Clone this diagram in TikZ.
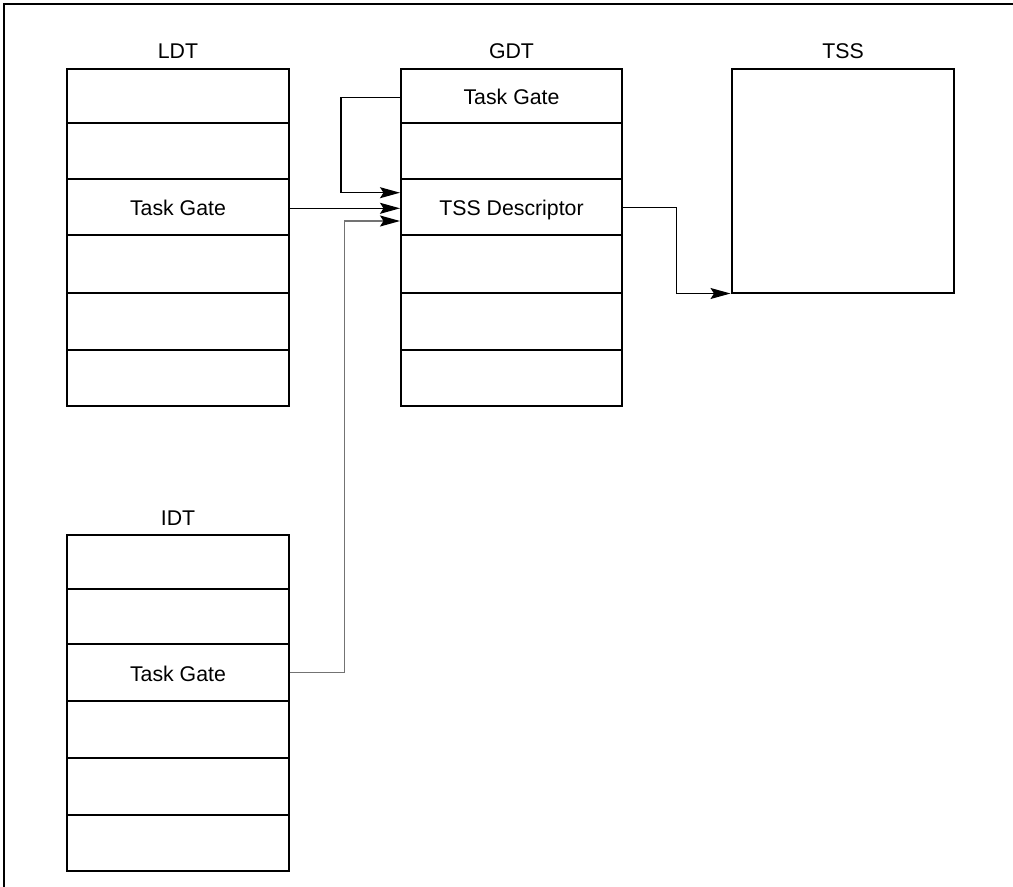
\documentclass[tikz,border=0pt]{standalone}
\usepackage{fontspec}
\setmainfont{Liberation Sans}
\usetikzlibrary{arrows.meta}
\begin{document}
\begin{tikzpicture}[x=1pt,y=-1pt,
  every node/.style={font=\fontsize{21.3}{25}\selectfont},
  row/.style={draw,line width=2pt,rectangle,inner sep=0pt,minimum width=222pt,text height=17pt,text depth=0pt},
  title/.style={inner sep=0pt},
  conn/.style={line width=1.1pt,-{Stealth[length=20pt,width=11pt,inset=3.5pt,color=black]}},
  gconn/.style={conn,line width=1.4pt,draw=gray!90!black},
  frame/.style={line width=2pt}]
\useasboundingbox (0,0) rectangle (1013,887);
\draw[frame] (4,887) -- (4,4) -- (1013,4);
% LDT
\node[title] (ldtlab) at (178,51) {LDT};
\node[row,minimum height=54pt] (ldt1) at (178,96) {};
\node[row,minimum height=56pt] (ldt2) at (178,151) {};
\node[row,minimum height=56pt] (ldt3) at (178,207) {Task Gate};
\node[row,minimum height=58pt] (ldt4) at (178,264) {};
\node[row,minimum height=57pt] (ldt5) at (178,321.5) {};
\node[row,minimum height=56pt] (ldt6) at (178,378) {};
% GDT
\node[title] (gdtlab) at (511.5,51) {GDT};
\node[row,minimum width=221pt,minimum height=54pt] (gdt1) at (511.5,96) {Task Gate};
\node[row,minimum width=221pt,minimum height=56pt] (gdt2) at (511.5,151) {};
\node[row,minimum width=221pt,minimum height=56pt] (gdt3) at (511.5,207) {TSS Descriptor};
\node[row,minimum width=221pt,minimum height=58pt] (gdt4) at (511.5,264) {};
\node[row,minimum width=221pt,minimum height=57pt] (gdt5) at (511.5,321.5) {};
\node[row,minimum width=221pt,minimum height=56pt] (gdt6) at (511.5,378) {};
% TSS
\node[title] (tsslab) at (843,51) {TSS};
\node[row,minimum width=222.5pt,minimum height=223.5pt] (tss) at (842.75,180.75) {};
% IDT
\node[title] (idtlab) at (178,518) {IDT};
\node[row,minimum height=54pt] (idt1) at (178,562) {};
\node[row,minimum height=55pt] (idt2) at (178,616.5) {};
\node[row,minimum height=57pt] (idt3) at (178,672.5) {Task Gate};
\node[row,minimum height=57pt] (idt4) at (178,729.5) {};
\node[row,minimum height=57pt] (idt5) at (178,786.5) {};
\node[row,minimum height=56pt] (idt6) at (178,843) {};
% connectors
\draw[conn,line width=1.3pt] ([yshift=-1.5pt]gdt1.west) -- ++(-59,0) |- ([yshift=14.3pt]gdt3.west);
\draw[conn] ([yshift=-1.3pt]ldt3.east) -- ([yshift=-1.3pt]gdt3.west);
\draw[gconn] (idt3.east) -- ++(54.5,0) |- ([yshift=-14pt]gdt3.west);
\draw[conn] ([yshift=-0.7pt]gdt3.east) -- ++(53.7,0) |- (tss.south west);
\end{tikzpicture}
\end{document}
